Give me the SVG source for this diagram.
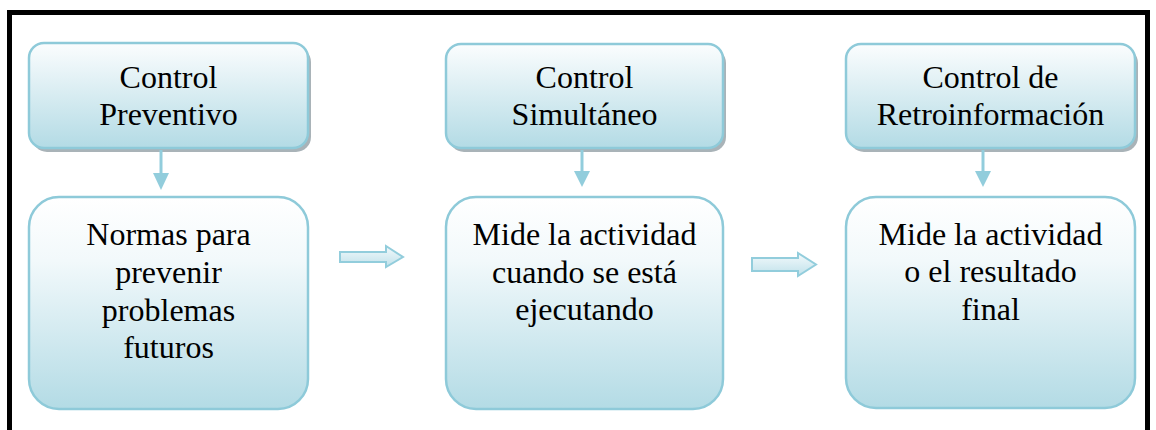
<svg xmlns="http://www.w3.org/2000/svg" width="1156" height="430" viewBox="0 0 1156 430">
<defs>
<linearGradient id="gTop" x1="0" y1="0" x2="0" y2="1">
<stop offset="0" stop-color="#fbfdfe"/>
<stop offset="0.35" stop-color="#e2f1f5"/>
<stop offset="1" stop-color="#b3dbe5"/>
</linearGradient>
<linearGradient id="gBot" x1="0" y1="0" x2="0" y2="1">
<stop offset="0" stop-color="#ffffff"/>
<stop offset="0.3" stop-color="#f2f9fb"/>
<stop offset="1" stop-color="#b3dbe5"/>
</linearGradient>
<linearGradient id="gArr" x1="0" y1="0" x2="0" y2="1">
<stop offset="0" stop-color="#f4fafc"/>
<stop offset="1" stop-color="#bfe1ea"/>
</linearGradient>
<marker id="ah" markerWidth="16" markerHeight="18" refX="8" refY="16" orient="auto-start-reverse" markerUnits="userSpaceOnUse" viewBox="0 0 16 18">
<path d="M0,0 L16,0 L8,18 Z" fill="#92cddc" transform="rotate(0)"/>
</marker>
</defs>
<style>
.frame{fill:none;stroke:#000;stroke-width:5}
.top{fill:url(#gTop);stroke:#8ecad9;stroke-width:2.5}
.shadow{fill:#8c9aa0;opacity:0.75}
.bot{fill:url(#gBot);stroke:#8ecad9;stroke-width:2.5}
.t{font-family:"Liberation Serif","Times New Roman",serif;font-size:32px;fill:#000;text-anchor:middle}
.vline{stroke:#92cddc;stroke-width:3;fill:none}
.head{fill:#92cddc}
.blk{fill:url(#gArr);stroke:#92cddc;stroke-width:2}
</style>
<rect x="0" y="0" width="1156" height="430" fill="#fff"/>
<path class="frame" d="M9.5,440 V12.5 H1147.5 V440"/>

<g id="node-preventivo">
<rect class="shadow" x="32" y="47" width="279" height="105" rx="15"/>
<rect class="top" x="29" y="43" width="279" height="105" rx="15"/>
<text class="t" x="168.5" y="88">Control</text>
<text class="t" x="168.5" y="125">Preventivo</text>
</g>
<g id="node-simultaneo">
<rect class="shadow" x="449" y="48" width="277" height="104" rx="15"/>
<rect class="top" x="446" y="44" width="277" height="104" rx="15"/>
<text class="t" x="584.5" y="88">Control</text>
<text class="t" x="584.5" y="125">Simultáneo</text>
</g>
<g id="node-retro">
<rect class="shadow" x="849" y="48" width="289" height="104" rx="15"/>
<rect class="top" x="846" y="44" width="289" height="104" rx="15"/>
<text class="t" x="990.5" y="88">Control de</text>
<text class="t" x="990.5" y="125">Retroinformación</text>
</g>

<g id="node-normas">
<rect class="bot" x="29" y="197" width="279" height="212" rx="30"/>
<text class="t" x="168.5" y="245">Normas para</text>
<text class="t" x="168.5" y="283">prevenir</text>
<text class="t" x="168.5" y="321">problemas</text>
<text class="t" x="168.5" y="358">futuros</text>
</g>
<g id="node-mide1">
<rect class="bot" x="446" y="197" width="277" height="212" rx="30"/>
<text class="t" x="584.5" y="245">Mide la actividad</text>
<text class="t" x="584.5" y="283">cuando se está</text>
<text class="t" x="584.5" y="320">ejecutando</text>
</g>
<g id="node-mide2">
<rect class="bot" x="846" y="197" width="289" height="211" rx="30"/>
<text class="t" x="990.5" y="245">Mide la actividad</text>
<text class="t" x="990.5" y="282">o el resultado</text>
<text class="t" x="990.5" y="320">final</text>
</g>

<g id="connectors">
<line class="vline" x1="161" y1="150" x2="161" y2="175"/>
<path class="head" d="M153,173 L169,173 L161,190 Z"/>
<line class="vline" x1="582" y1="150" x2="582" y2="173"/>
<path class="head" d="M574,171 L590,171 L582,187 Z"/>
<line class="vline" x1="983" y1="150" x2="983" y2="173"/>
<path class="head" d="M975,171 L991,171 L983,187 Z"/>
<path class="blk" d="M340,252 H386 V246 L403,257 L386,267 V262 H340 Z"/>
<path class="blk" d="M752,258 H798 V253 L816,264.5 L798,276 V271 H752 Z"/>
</g>
</svg>
